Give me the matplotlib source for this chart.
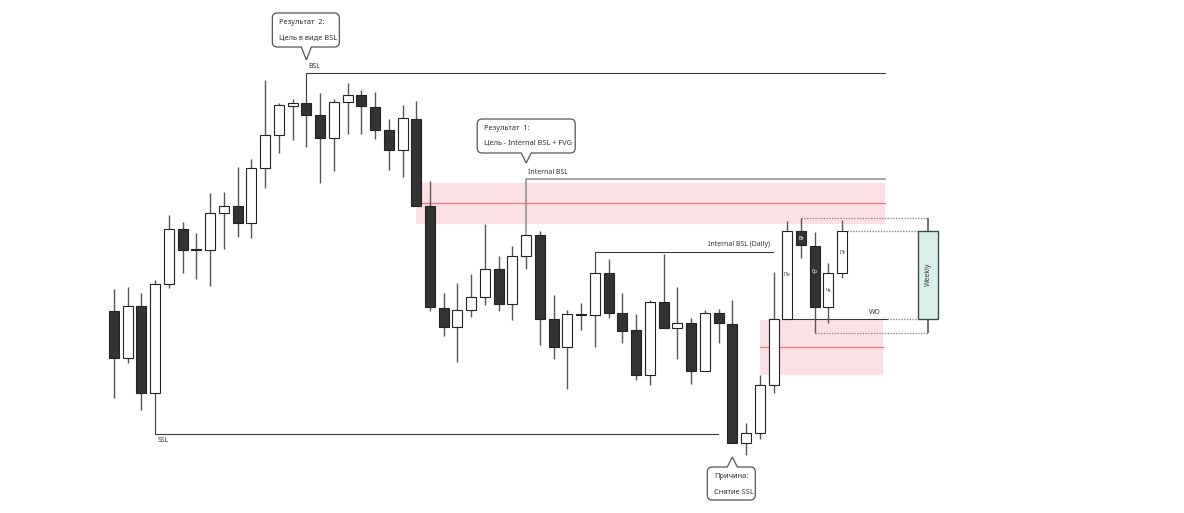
import matplotlib
matplotlib.use("Agg")
import matplotlib.pyplot as plt
from matplotlib.path import Path
from matplotlib.patches import PathPatch, Rectangle
import numpy as np

plt.rcParams['font.family'] = ['Noto Sans', 'DejaVu Sans']

# ---------------- data (price units) ----------------
opens  = [202, 155, 207, 120, 229, 284, 263, 263, 300, 307, 290, 345, 378, 407, 410, 398, 375, 411,
          418, 406, 383, 363, 394, 307, 205, 186, 203, 216, 244, 209, 257, 278, 194, 166, 198, 198,
          240, 200, 183, 138, 211, 185, 190, 142, 200, 189, 70, 80, 128, 194, 282, 267, 206, 240]
highs  = [224, 226, 220, 233, 298, 291, 280, 320, 321, 346, 354, 433, 410, 414, 410, 420, 414, 430,
          423, 421, 394, 408, 412, 332, 220, 230, 239, 289, 257, 267, 278, 282, 218, 203, 210, 240,
          254, 220, 199, 213, 259, 226, 195, 203, 204, 213, 90, 138, 241, 292, 295, 281, 250, 293]
lows   = [115, 150, 103, 120, 225, 240, 234, 227, 264, 276, 275, 325, 360, 373, 366, 330, 342, 379,
          379, 374, 343, 336, 307, 202, 177, 151, 196, 208, 202, 193, 244, 168, 154, 124, 183, 166,
          195, 170, 133, 128, 185, 154, 129, 142, 170, 70, 58, 74, 120, 194, 255, 180, 190, 235]
closes = [155, 207, 120, 229, 284, 263, 263, 300, 307, 290, 345, 378, 408, 410, 398, 375, 411, 418,
          407, 383, 363, 395, 307, 206, 186, 203, 216, 244, 209, 257, 278, 194, 166, 199, 198, 240,
          200, 182, 138, 211, 185, 190, 142, 200, 190, 70, 80, 128, 194, 282, 268, 206, 240, 282]

day_labels = ["Пн", "Вт", "Ср", "Чт", "Пт"]
day_index = [49, 50, 51, 52, 53]

weekly_ohlc = (194, 295, 180, 282)   # open, high, low, close
weekly_pos = 59.24

bsl_level, bsl_from = 440, 14
ibsl_level, ibsl_from = 334, 30
ibsl_daily_level, ibsl_daily_from = 261, 35
ssl_level, ssl_from = 79, 3
wo_level = 194

fvg_zones = [  # (x_start, x_end, low, high, mid)
    (22.0, 56.1, 289, 330, 310),
    (47.0, 56.0, 138, 193, 166),
]

# ---------------- figure ----------------
PX = 13.74           # pixels per candle index
X0 = 114             # pixel of index 0
W, H = 1184, 513
fig = plt.figure(figsize=(W / 100, H / 100), dpi=100)
ax = fig.add_axes([0, 0, 1, 1])
ax.set_xlim(-X0 / PX, (W - X0) / PX)
ax.set_ylim(0, H)
ax.axis('off')

def px(n):
    return n / PX

TXT = '#333333'
LINE = '#3a3a3a'
GREY = '#8a8a8a'
WICK = '#555555'

# FVG zones
for x0, x1, lo, hi, mid in fvg_zones:
    ax.add_patch(Rectangle((x0, lo), x1 - x0, hi - lo, facecolor='#fde0e4', edgecolor='none', zorder=0))
    ax.plot([x0, x1], [mid, mid], color='#ec7480', lw=0.9, zorder=0.5)

# candles
bw = px(10)
idx = np.arange(len(opens))
o = np.array(opens, float); c = np.array(closes, float)
hi = np.array(highs, float); lo = np.array(lows, float)
ax.vlines(idx, lo, hi, color=WICK, lw=1.0, zorder=2)
bull = c >= o
bottoms = np.minimum(o, c)
heights = np.maximum(np.abs(c - o), 1.2)
faces = np.where(bull & (np.abs(c - o) > 0.5), 'white', '#333333')
ax.bar(idx, heights, bottom=bottoms, width=bw, color=list(faces), edgecolor='#222222', lw=0.8, zorder=3)

# day labels
for lab, i in zip(day_labels, day_index):
    col = 'white' if closes[i] < opens[i] else TXT
    ax.text(i, (opens[i] + closes[i]) / 2 + (5 if i == 51 else 0), lab, fontsize=3.6, color=col,
            ha='center', va='center', zorder=5)

# weekly candle
wo, wh, wl, wc = weekly_ohlc
ax.vlines([weekly_pos, weekly_pos], [wc, wl], [wh, wo], color=WICK, lw=1.2, zorder=2)
ax.bar([weekly_pos], [wc - wo], bottom=[wo], width=px(20), color='#d8efeb', edgecolor='#3b4d4a',
       lw=1.0, zorder=3)
ax.text(weekly_pos, (wo + wc) / 2 + 1, 'Weekly', rotation=90, fontsize=5, color=TXT,
        ha='center', va='center', zorder=5, fontweight='bold')

# liquidity levels
right_end = (885 - X0) / PX
def level(i_from, lvl, x_end, color=LINE, lw=0.8):
    top = highs[i_from] if lvl > highs[i_from] else lows[i_from]
    ax.plot([i_from, i_from, x_end], [top, lvl, lvl], color=color, lw=lw, zorder=1.5,
            solid_joinstyle='miter')

level(bsl_from, bsl_level, right_end)
ax.text(bsl_from + px(2), bsl_level + 6, 'BSL', fontsize=5, color=TXT, ha='left', va='center')
level(ibsl_from, ibsl_level, right_end, color=GREY, lw=1.1)
ax.text(ibsl_from + px(2), ibsl_level + 7, 'Internal BSL', fontsize=5, color=TXT, ha='left', va='center')
level(ibsl_daily_from, ibsl_daily_level, (773 - X0) / PX, color=LINE, lw=0.8)
ax.text((770 - X0) / PX, ibsl_daily_level + 7, 'Internal BSL (Daily)', fontsize=5, color=TXT,
        ha='right', va='center')
level(ssl_from, ssl_level, (718 - X0) / PX, color=LINE, lw=0.8)
ax.text(ssl_from + px(2), ssl_level - 6, 'SSL', fontsize=5, color=TXT, ha='left', va='center')

# WO line and dotted weekly connectors
ax.plot([49 - bw / 2, (887 - X0) / PX], [wo_level, wo_level], color=LINE, lw=0.8, zorder=1.5)
ax.plot([(887 - X0) / PX, weekly_pos - px(10)], [wo_level, wo_level], color=GREY, lw=1.0, ls=(0, (1, 1)), zorder=1.5)
ax.text((875 - X0) / PX, wo_level + 6, 'WO', fontsize=5, color=TXT, ha='center', va='center')
ax.plot([50, weekly_pos], [wh, wh], color=GREY, lw=1.0, ls=(0, (1, 1)), zorder=1.5)
ax.plot([53 + bw / 2, weekly_pos - px(10)], [wc, wc], color=GREY, lw=1.0, ls=(0, (1, 1)), zorder=1.5)
ax.plot([51, weekly_pos], [wl, wl], color=GREY, lw=1.0, ls=(0, (1, 1)), zorder=1.5)

# callouts
def callout(tip_i, tip_p, left, width, height, gap, lines, above=True):
    r = 5; hw = 5
    s = 1 if above else -1
    B = gap; T = gap + height
    L = left; R = left + width
    pts = [(L + r, B), (-hw, B), (0, 0), (hw, B), (R - r, B), (R, B), (R, B + r), (R, T - r),
           (R, T), (R - r, T), (L + r, T), (L, T), (L, T - r), (L, B + r), (L, B), (L + r, B)]
    codes = [Path.MOVETO, Path.LINETO, Path.LINETO, Path.LINETO, Path.LINETO,
             Path.CURVE3, Path.CURVE3, Path.LINETO, Path.CURVE3, Path.CURVE3,
             Path.LINETO, Path.CURVE3, Path.CURVE3, Path.LINETO, Path.CURVE3, Path.CURVE3]
    verts = [(tip_i + px(x), tip_p + s * y) for x, y in pts]
    ax.add_patch(PathPatch(Path(verts, codes), facecolor='white', edgecolor='#555555', lw=0.9, zorder=6))
    for k, t in enumerate(lines):
        yy = tip_p + T - (9 + 16 * k) if above else tip_p - B - (10 + 15 * k)
        ax.text(tip_i + px(L + 7), yy, t, fontsize=5.3, color=TXT, ha='left', va='center', zorder=7)

callout(bsl_from, bsl_level + 13, -34, 67, 34, 13, ["Результат  2:", "Цель в виде BSL"])
callout(ibsl_from, ibsl_level + 16, -49, 98, 34, 10, ["Результат  1:", "Цель - Internal BSL + FVG"])
callout(45, lows[45] - 14, -25, 48, 33, 10, ["Причина:", "Снятие SSL"], above=False)

fig.savefig('out.png', dpi=100, facecolor='white')
